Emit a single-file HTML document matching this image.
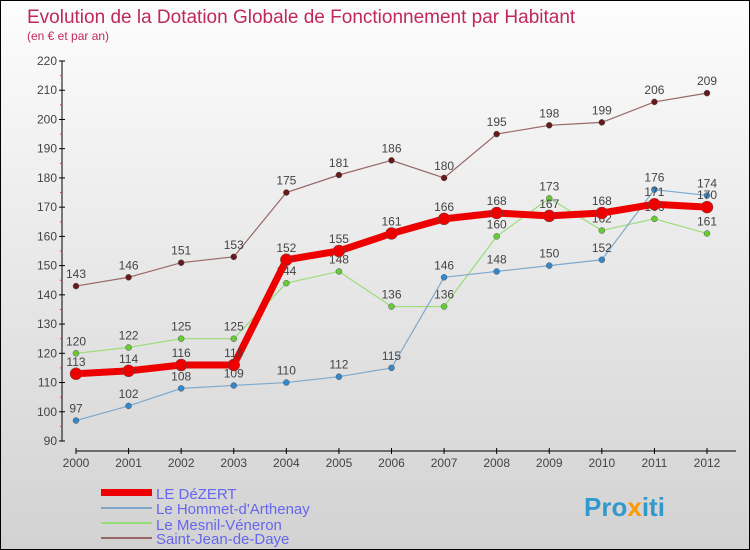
<!DOCTYPE html>
<html><head><meta charset="utf-8"><style>
body{margin:0}
#c{width:750px;height:550px;position:relative;box-sizing:border-box;border:1px solid #000;background:linear-gradient(#fdfdfd,#d2d2d2);font-family:"Liberation Sans",sans-serif;overflow:hidden}
</style></head><body>
<div id="c">
<svg id="s" width="750" height="550" style="position:absolute;left:0;top:0">
<text x="26" y="22" font-size="19" fill="#c0285a">Evolution de la Dotation Globale de Fonctionnement par Habitant</text>
<text x="26" y="39" font-size="12" fill="#c0285a">(en € et par an)</text>
<g id="axes"></g><g id="series"></g>
<g font-size="15">
<rect x="100" y="488" width="51" height="7" fill="#e00"/>
<text x="155" y="498" fill="#6666ee">LE DéZERT</text>
<rect x="100" y="506" width="51" height="2" fill="#7fa9cc"/>
<text x="155" y="513" fill="#6666ee">Le Hommet-d'Arthenay</text>
<rect x="100" y="521" width="51" height="2" fill="#99dd77"/>
<text x="155" y="529" fill="#6666ee">Le Mesnil-Véneron</text>
<rect x="100" y="536" width="51" height="2" fill="#996666"/>
<text x="155" y="543" fill="#6666ee">Saint-Jean-de-Daye</text>
</g>
<text x="583" y="515" font-size="26" font-weight="bold" fill="#3399cc">Pro<tspan fill="#ff9900">x</tspan>iti</text>
</svg></div>
<script>
const years=[2000,2001,2002,2003,2004,2005,2006,2007,2008,2009,2010,2011,2012];
const yTicks=[90,100,110,120,130,140,150,160,170,180,190,200,210,220];
const ledezert=[113,114,116,116,152,155,161,166,168,167,168,171,170];
const hommet=[97,102,108,109,110,112,115,146,148,150,152,176,174];
const mesnil=[120,122,125,125,144,148,136,136,160,173,162,166,161];
const saintjean=[143,146,151,153,175,181,186,180,195,198,199,206,209];
const NS="http://www.w3.org/2000/svg";
const xs=i=>75+i*(631/12);
const ys=v=>440-(v-90)*(380/130);
function mk(t,a,p){const e=document.createElementNS(NS,t);for(const k in a)e.setAttribute(k,a[k]);p.appendChild(e);return e;}
const ax=document.getElementById('axes');
let l=mk('line',{x1:61,y1:ys(220),x2:61,y2:ys(90),stroke:'#000'},ax);


l=mk('line',{x1:75,y1:450,x2:735,y2:450,stroke:'#000'},ax);


yTicks.forEach(v=>{
 mk('line',{x1:58,y1:ys(v),x2:64,y2:ys(v),stroke:'#000'},ax);
 if(v<220)mk('line',{x1:59,y1:ys(v+5),x2:61,y2:ys(v+5),stroke:'#e33'},ax);
 const t=mk('text',{x:56,y:ys(v)+4,'font-size':12,fill:'#444','text-anchor':'end'},ax);
 t.textContent=v;
 
 
});
years.forEach((y,i)=>{
 mk('line',{x1:xs(i),y1:447,x2:xs(i),y2:453,stroke:'#000'},ax);
 const t=mk('text',{x:xs(i),y:466,'font-size':12,fill:'#444','text-anchor':'middle'},ax);
 t.textContent=y;
 
 
});
const sg=document.getElementById('series');
function draw(vals,color,w,r,dot,name){
 const g=mk('g',{},sg);
 
 
 const p=mk('polyline',{points:vals.map((v,i)=>xs(i)+','+ys(v)).join(' '),fill:'none',stroke:color,'stroke-width':w},g);
 
 
 vals.forEach((v,i)=>{
  const c=mk('circle',{cx:xs(i),cy:ys(v),r:r,fill:dot,stroke:'#555','stroke-width':0.5},g);
  
  
  const t=mk('text',{x:xs(i),y:ys(v)-8,'font-size':12,fill:'#444','text-anchor':'middle'},g);
  t.textContent=v;
  
  
 });
}
draw(saintjean,'#996666',1.2,3,'#661a1a','saintjean');
draw(mesnil,'#99dd77',1.2,3,'#66cc33','mesnil');
draw(hommet,'#7fa9cc',1.2,3,'#3388cc','hommet');
draw(ledezert,'#e00',7,6,'#e00','ledezert');
</script>
</body></html>
